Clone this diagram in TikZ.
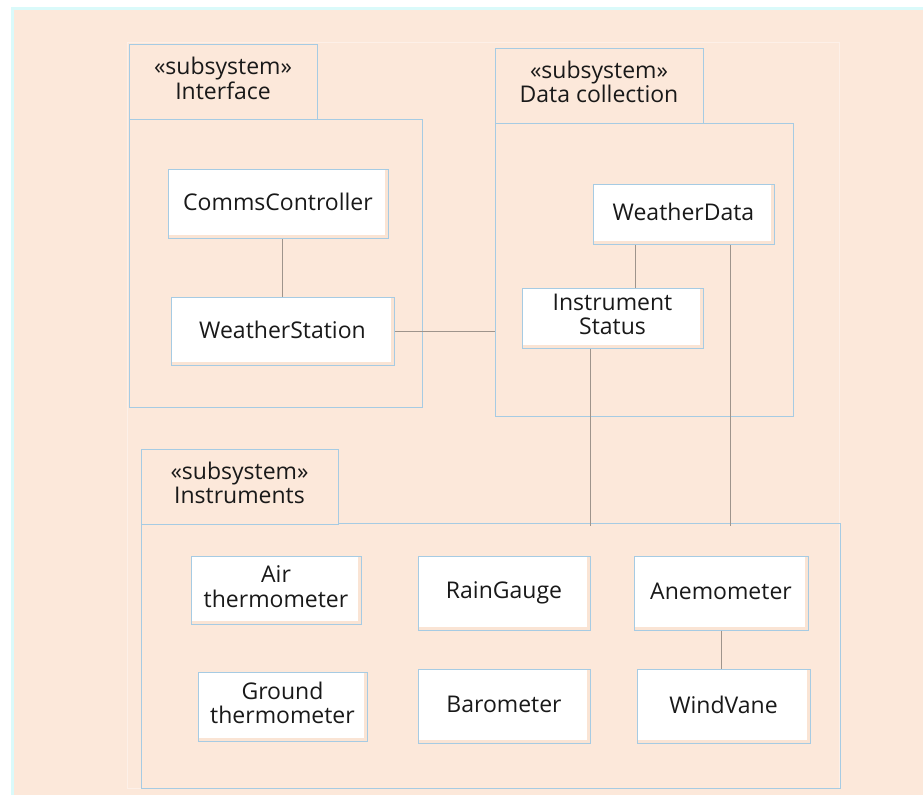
\documentclass[tikz,border=0pt]{standalone}
\usepackage{fontspec}
\setmainfont{Open Sans}
\definecolor{peach}{RGB}{252,232,218}
\definecolor{peachlight}{RGB}{253,240,232}
\definecolor{edgecyan}{RGB}{218,250,250}
\definecolor{boxblue}{RGB}{166,203,227}
\definecolor{wire}{RGB}{158,148,140}
\definecolor{boxshade}{RGB}{250,228,212}
% two centred lines with the diagram's tight line spacing
\newcommand{\twolines}[2]{\begin{tabular}{@{}c@{}}#1\\#2\end{tabular}}
\begin{document}
\begin{tikzpicture}[x=1pt,y=-1pt,
  txt/.style={font=\fontsize{23}{23.5}\selectfont, align=center, text=black!90},
  classbox/.style={draw=boxblue, line width=1pt, fill=white, inner sep=0pt,
    minimum width=#1, txt,
    path picture={
      \fill[boxshade] (path picture bounding box.south west) rectangle
        ([yshift=3pt]path picture bounding box.south east);
      \fill[boxshade] ([xshift=-3pt]path picture bounding box.south east) rectangle
        (path picture bounding box.north east);}},
  tab/.style={draw=boxblue, line width=1pt, fill=peach, inner sep=0pt, txt},
  body/.style={draw=boxblue, line width=1pt, inner sep=0pt},
  conn/.style={draw=wire, line width=0.9pt}]
\useasboundingbox (0,0) rectangle (923,795);
% canvas
\fill[white] (0,0) rectangle (923,795);
\fill[edgecyan] (11,7) rectangle (923,795);
\fill[peach] (14,10) rectangle (923,795);
\draw[peachlight, line width=1pt] (127,42) rectangle (839,788);

% Interface subsystem
\node[body, minimum width=293pt, minimum height=288pt] (ifbody) at (275.5,263) {};
\node[tab, minimum width=188pt, minimum height=75pt] (iftab) at (223,81.5)
  {\twolines{«subsystem»}{Interface}};
\node[classbox=220pt, minimum height=69pt] (cc) at (278,203.5)
  {\raisebox{3pt}{CommsController}};
\node[classbox=223pt, minimum height=68pt] (ws) at (282.5,331)
  {\raisebox{3pt}{WeatherStation}};

% Data collection subsystem
\node[body, minimum width=298pt, minimum height=293pt] (dcbody) at (644,269.5) {};
\node[tab, minimum width=208pt, minimum height=75pt] (dctab) at (599,85.5)
  {\twolines{«subsystem»}{Data collection}};
\node[classbox=181pt, minimum height=60pt] (wd) at (683.5,214)
  {\raisebox{4pt}{WeatherData}};
\node[classbox=181pt, minimum height=60pt] (is) at (612.5,318)
  {\raisebox{2pt}{\twolines{Instrument}{Status}}};

% Instruments subsystem
\node[body, minimum width=699pt, minimum height=265pt] (inbody) at (490.5,655.5) {};
\node[tab, minimum width=197pt, minimum height=75pt] (intab) at (239.5,486.5)
  {\raisebox{3pt}{\twolines{«subsystem»}{Instruments}}};
\node[classbox=170pt, minimum height=68pt] (air) at (276,590)
  {\raisebox{4pt}{\twolines{Air}{thermometer}}};
\node[classbox=172pt, minimum height=74pt] (rg) at (504,593)
  {\raisebox{3pt}{RainGauge}};
\node[classbox=174pt, minimum height=74pt] (an) at (721,593)
  {\raisebox{3pt}{Anemometer}};
\node[classbox=169pt, minimum height=69pt] (gt) at (282.5,706.5)
  {\raisebox{4pt}{\twolines{Ground}{thermometer}}};
\node[classbox=172pt, minimum height=74pt] (bar) at (504,706)
  {\raisebox{3pt}{Barometer}};
\node[classbox=173pt, minimum height=74pt] (wv) at (723.5,706)
  {\raisebox{3pt}{WindVane}};

% associations
\draw[conn] (ws.north) -- (ws.north |- cc.south);
\draw[conn] (ws.east) -- (ws.east -| dcbody.west);
\draw[conn] ([xshift=22.5pt]is.north) -- ([xshift=22.5pt]is.north |- wd.south);
\draw[conn] ([xshift=-22.5pt]is.south) -- ([xshift=-22.5pt,yshift=-3pt]is.south |- inbody.north);
\draw[conn] ([xshift=46.5pt]wd.south) -- ([xshift=46.5pt,yshift=-3pt]wd.south |- inbody.north);
\draw[conn] (an.south) -- (an.south |- wv.north);
\end{tikzpicture}
\end{document}
